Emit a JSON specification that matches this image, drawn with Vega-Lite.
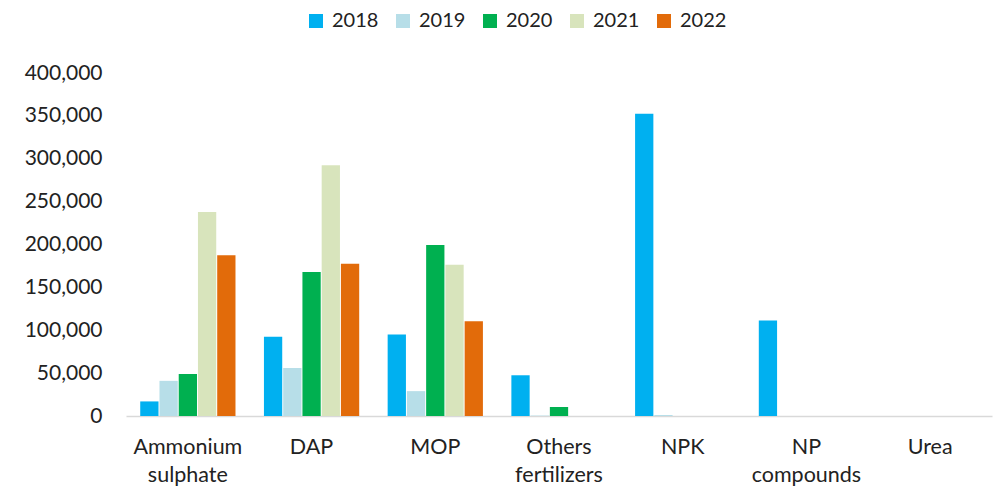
{
  "$schema": "https://vega.github.io/schema/vega-lite/v6.json",
  "width": 866,
  "height": 343,
  "autosize": {"type": "none"},
  "padding": {"left": 126, "top": 73, "right": 7, "bottom": 72},
  "background": "white",
  "config": {
    "view": {"stroke": null},
    "font": "Lato",
    "axis": {"labelFont": "Lato", "labelFontSize": 20, "labelColor": "#222", "grid": false, "ticks": false},
    "legend": {"labelFont": "Lato", "labelFontSize": 20, "labelColor": "#222"}
  },
  "data": {
    "values": [
      {"category": "Ammonium sulphate", "year": "2018", "value": 17000},
      {"category": "Ammonium sulphate", "year": "2019", "value": 41000},
      {"category": "Ammonium sulphate", "year": "2020", "value": 49000},
      {"category": "Ammonium sulphate", "year": "2021", "value": 238000},
      {"category": "Ammonium sulphate", "year": "2022", "value": 187500},
      {"category": "DAP", "year": "2018", "value": 92500},
      {"category": "DAP", "year": "2019", "value": 56000},
      {"category": "DAP", "year": "2020", "value": 168000},
      {"category": "DAP", "year": "2021", "value": 292500},
      {"category": "DAP", "year": "2022", "value": 177500},
      {"category": "MOP", "year": "2018", "value": 95000},
      {"category": "MOP", "year": "2019", "value": 29000},
      {"category": "MOP", "year": "2020", "value": 199500},
      {"category": "MOP", "year": "2021", "value": 176500},
      {"category": "MOP", "year": "2022", "value": 110500},
      {"category": "Others fertilizers", "year": "2018", "value": 47500},
      {"category": "Others fertilizers", "year": "2019", "value": 500},
      {"category": "Others fertilizers", "year": "2020", "value": 10500},
      {"category": "Others fertilizers", "year": "2021", "value": 0},
      {"category": "Others fertilizers", "year": "2022", "value": 0},
      {"category": "NPK", "year": "2018", "value": 352500},
      {"category": "NPK", "year": "2019", "value": 1200},
      {"category": "NPK", "year": "2020", "value": 0},
      {"category": "NPK", "year": "2021", "value": 0},
      {"category": "NPK", "year": "2022", "value": 0},
      {"category": "NP compounds", "year": "2018", "value": 111500},
      {"category": "NP compounds", "year": "2019", "value": 0},
      {"category": "NP compounds", "year": "2020", "value": 0},
      {"category": "NP compounds", "year": "2021", "value": 0},
      {"category": "NP compounds", "year": "2022", "value": 0},
      {"category": "Urea", "year": "2018", "value": 0},
      {"category": "Urea", "year": "2019", "value": 0},
      {"category": "Urea", "year": "2020", "value": 0},
      {"category": "Urea", "year": "2021", "value": 0},
      {"category": "Urea", "year": "2022", "value": 0}
    ]
  },
  "mark": {"type": "bar"},
  "encoding": {
    "x": {
      "field": "category",
      "type": "nominal",
      "sort": null,
      "title": null,
      "scale": {"paddingInner": 0.23, "paddingOuter": 0.115},
      "axis": {
        "labelAngle": 0,
        "labelExpr": "split(datum.label, ' ')",
        "labelFontSize": 21.5,
        "labelLineHeight": 28,
        "labelPadding": 20,
        "labelBaseline": "top",
        "domainColor": "#D9D9D9",
        "domainWidth": 1.5
      }
    },
    "xOffset": {
      "field": "year",
      "type": "nominal",
      "scale": {"paddingInner": 0.05, "paddingOuter": 0}
    },
    "y": {
      "field": "value",
      "type": "quantitative",
      "title": null,
      "scale": {"domain": [0, 400000], "nice": false},
      "axis": {
        "values": [0, 50000, 100000, 150000, 200000, 250000, 300000, 350000, 400000],
        "format": ",d",
        "domain": false,
        "labelFontSize": 21,
        "labelPadding": 24
      }
    },
    "color": {
      "field": "year",
      "type": "nominal",
      "title": null,
      "scale": {
        "domain": ["2018", "2019", "2020", "2021", "2022"],
        "range": ["#00B0F0", "#B7DEE8", "#00B050", "#D8E4BC", "#E26B0A"]
      },
      "legend": {
        "orient": "none",
        "legendX": 180,
        "legendY": -62,
        "direction": "horizontal",
        "columns": 5,
        "symbolType": "square",
        "symbolSize": 196,
        "symbolStrokeWidth": 0,
        "symbolOpacity": 1,
        "labelOffset": 6,
        "columnPadding": 14
      }
    }
  }
}
